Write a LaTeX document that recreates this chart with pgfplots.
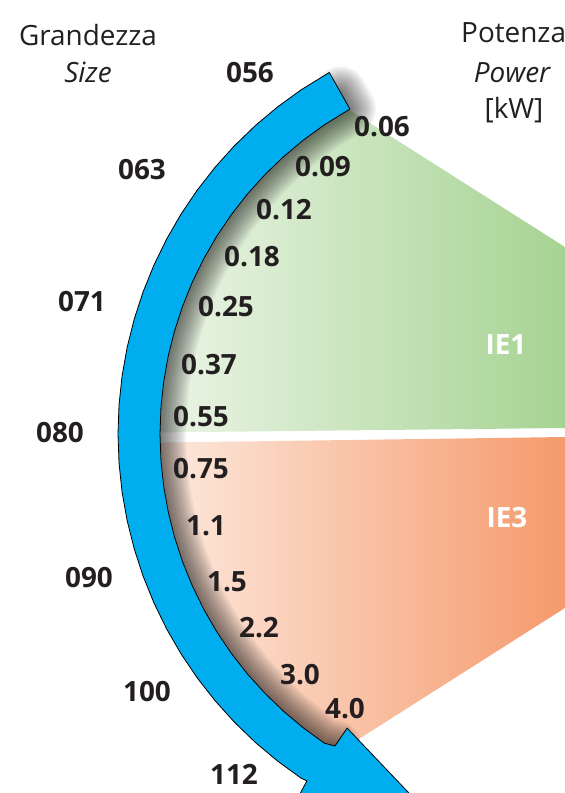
\documentclass[border=0pt]{standalone}
\usepackage{fontspec}
\setmainfont{Open Sans}
\usepackage{pgfplots}
\pgfplotsset{compat=1.18}
\usepackage{pgfplotstable}

\definecolor{txt}{RGB}{35,31,32}
\definecolor{arrowblue}{RGB}{0,174,239}
\definecolor{greenL}{RGB}{238,246,234}
\definecolor{greenR}{RGB}{166,211,146}
\definecolor{orangeL}{RGB}{253,236,226}
\definecolor{orangeR}{RGB}{245,154,108}

\tikzset{
  lbl/.style={inner sep=0pt, text=txt, font=\fontsize{28}{30}\selectfont\bfseries, anchor=base},
  head/.style={inner sep=0pt, text=txt, font=\fontsize{28}{32}\selectfont, anchor=base},
  shd/.style={draw=black, opacity=0.05, line cap=round, line join=round, line width=#1},
}

% all shapes in polar form (angle, radius) around the centre of the arrow
\pgfplotstableread{
th r
119.4 415
124 415
128 415
132 415
136 415
140 415
144 415
148 415
152 415
156 415
160 415
164 415
168 415
172 415
176 415
180 415
184 415
188 415
192 415
196 415
200 415
204 415
208 415
212 415
216 415
220 415
224 415
228 415
232 415
236 415
236.9 414.1
237.2 439.1
262.7 434.9
237.7 347.9
237.6 369.5
236 373
232 373
228 373
224 373
220 373
216 373
212 373
208 373
204 373
200 373
196 373
192 373
188 373
184 373
180 373
176 373
172 373
168 373
164 373
160 373
156 373
152 373
148 373
144 373
140 373
136 373
132 373
128 373
124 373
119.4 373
119.4 415
}\bandtab

\pgfplotstableread{
th r
119.4 392
119.4 373
124 373
128 373
132 373
136 373
140 373
144 373
148 373
152 373
156 373
160 373
164 373
168 373
172 373
176 373
180 373
184 373
188 373
192 373
196 373
200 373
204 373
208 373
212 373
216 373
220 373
224 373
228 373
232 373
236 373
237.6 369.5
}\shadowtab

\pgfplotstableread{
th r
80.3 189.7
119.3 369.4
121 390
130 390
140 390
150 390
160 390
170 390
179.8 390
10.6 32.6
}\greentab

\pgfplotstableread{
th r
-5.4 32.1
181.3 390
190 390
200 390
210 390
220 390
230 390
236 390
237.9 381.5
280.4 176.9
}\orangetab

\begin{document}
\begin{tikzpicture}
\useasboundingbox (0,0) rectangle (565bp,793bp);
\begin{axis}[
  at={(0,0)}, anchor=south west,
  scale only axis, width=565bp, height=793bp,
  xmin=-533, xmax=32, ymin=-359, ymax=434,
  hide axis, clip=true,
]
% efficiency areas
\addplot[draw=none, left color=greenL, right color=greenR, data cs=polar]
  table[x=th, y=r] {\greentab};
\addplot[draw=none, left color=orangeL, right color=orangeR, data cs=polar]
  table[x=th, y=r] {\orangetab};

% soft shadow along the inner edge of the arrow
\pgfplotsinvokeforeach{52,48,44,40,36,32,28,24,20,16,12,8,4}{
  \addplot[shd=#1bp, data cs=polar] table[x=th, y=r] {\shadowtab};
}

% the blue arrow
\addplot[draw=black, line width=0.8bp, fill=arrowblue, data cs=polar]
  table[x=th, y=r] {\bandtab};

% headings
\node[head] at (axis cs:-445,388) {Grandezza};
\node[head] at (axis cs:-445,351) {\itshape Size};
\node[head, anchor=base west] at (axis cs:-72,391) {Potenza};
\node[head] at (axis cs:-21,351) {\itshape Power};
\node[head] at (axis cs:-19,315) {[kW]};

% frame sizes
\node[lbl] at (axis cs:-283,351) {056};
\node[lbl] at (axis cs:-391,254) {063};
\node[lbl] at (axis cs:-451,122) {071};
\node[lbl] at (axis cs:-473,-9) {080};
\node[lbl] at (axis cs:-444,-154) {090};
\node[lbl] at (axis cs:-386,-268) {100};
\node[lbl] at (axis cs:-299,-351) {112};

% powers
\node[lbl] at (axis cs:-151,297) {0.06};
\node[lbl] at (axis cs:-210,257) {0.09};
\node[lbl] at (axis cs:-249,214) {0.12};
\node[lbl] at (axis cs:-281,167) {0.18};
\node[lbl] at (axis cs:-307,117) {0.25};
\node[lbl] at (axis cs:-324,59) {0.37};
\node[lbl] at (axis cs:-332,7) {0.55};
\node[lbl] at (axis cs:-332,-45) {0.75};
\node[lbl] at (axis cs:-327,-102) {1.1};
\node[lbl] at (axis cs:-306,-158) {1.5};
\node[lbl] at (axis cs:-274,-204) {2.2};
\node[lbl] at (axis cs:-233,-251) {3.0};
\node[lbl] at (axis cs:-188,-285) {4.0};

% classes
\node[lbl, text=white] at (axis cs:-27,79) {IE1};
\node[lbl, text=white] at (axis cs:-26,-94) {IE3};
\end{axis}
\end{tikzpicture}
\end{document}
